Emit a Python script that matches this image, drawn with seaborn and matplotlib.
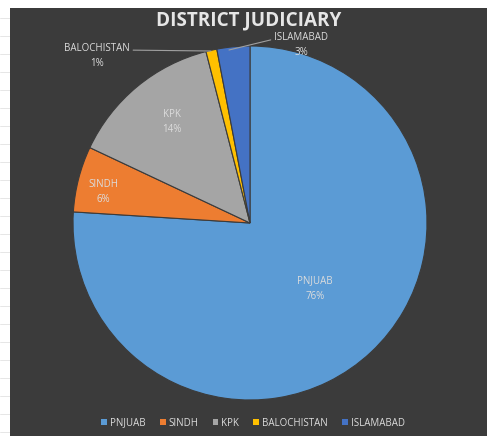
import matplotlib
matplotlib.use("Agg")
import matplotlib.pyplot as plt
import seaborn as sns

sns.set_theme(style="white")
plt.rcParams['font.family'] = ['Open Sans', 'DejaVu Sans']

categories = ["PNJUAB", "SINDH", "KPK", "BALOCHISTAN", "ISLAMABAD"]
shares = [76, 6, 14, 1, 3]
colors = ["#5B9BD5", "#ED7D31", "#A5A5A5", "#FFC000", "#4472C4"]
title = "DISTRICT JUDICIARY"

W, H = 487, 436
fig = plt.figure(figsize=(W / 100, H / 100), dpi=100)
fig.patch.set_facecolor("white")

# spreadsheet strip with faint grid lines on the left
strip = fig.add_axes([0, 0, 10 / W, 1])
strip.set_facecolor("white")
strip.set_xlim(0, 1); strip.set_ylim(H, 0)
for yy in range(18, 436, 18):
    strip.axhline(yy, color="#e2e2e2", lw=0.6)
strip.axis("off")

# dark chart area
bg = fig.add_axes([10 / W, 0, (W - 10) / W, (H - 8) / H])
bg.set_facecolor("#3b3b3b")
bg.set_xticks([]); bg.set_yticks([])
for s in bg.spines.values():
    s.set_visible(False)

cx, cy, r = 250, 223, 177
ax = fig.add_axes([(cx - r) / W, (H - cy - r) / H, 2 * r / W, 2 * r / H])
ax.set_facecolor("none")
ax.axis("off")

wedges, _ = ax.pie(shares, colors=colors, startangle=90, counterclock=False,
                   radius=1, wedgeprops=dict(edgecolor="#3b3b3b", linewidth=0.8))
ax.set_xlim(-1, 1); ax.set_ylim(-1, 1)
ax.set_aspect("equal")

def d(px, py):
    return ((px - cx) / r, (cy - py) / r)

lab_col = "#dcdcdc"
fs = 7
inside = {"PNJUAB": (315, 289), "SINDH": (103, 192), "KPK": (172, 122)}
for cat, val in zip(categories, shares):
    if cat in inside:
        x, y = d(*inside[cat])
        ax.text(x, y, f"{cat}\n{val}%", ha="center", va="center", color=lab_col,
                fontsize=fs, linespacing=1.6)

# outside labels with leader lines
bx, by = d(97, 56)
ax.annotate("BALOCHISTAN\n1%", xy=d(211, 51), xytext=(bx, by), ha="center", va="center",
            color=lab_col, fontsize=fs, linespacing=1.6,
            arrowprops=dict(arrowstyle="-", color="#a0a0a0", lw=0.8,
                            relpos=(1.0, 0.72), shrinkA=0, shrinkB=0))
ix, iy = d(301, 45)
ax.annotate("ISLAMABAD\n3%", xy=d(229, 50), xytext=(ix, iy), ha="center", va="center",
            color=lab_col, fontsize=fs, linespacing=1.6,
            arrowprops=dict(arrowstyle="-", color="#a0a0a0", lw=0.8,
                            relpos=(0.0, 0.72), shrinkA=0, shrinkB=0))

fig.text(249 / W, 1 - 20 / H, title, ha="center", va="center", color="#e6e6e6",
         fontsize=13.6, fontweight="bold")

leg = fig.legend(wedges, categories, loc="center", bbox_to_anchor=(253 / W, 1 - 423 / H),
                 ncol=5, frameon=False, fontsize=7, handlelength=0.6, handleheight=0.6,
                 handletextpad=0.3, columnspacing=1.45, labelcolor=lab_col)
for h in leg.legend_handles:
    h.set_edgecolor("none")

fig.savefig("out.png", dpi=100, facecolor=fig.get_facecolor())
